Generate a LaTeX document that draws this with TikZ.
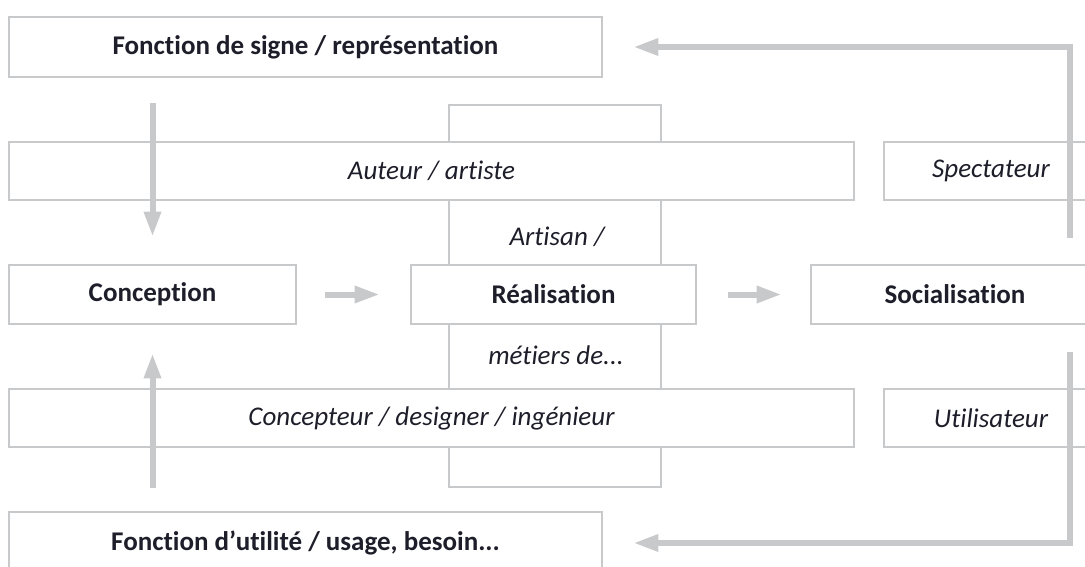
\documentclass[tikz,border=0pt]{standalone}
\usepackage{fontspec}
\setmainfont{Carlito}[Ligatures={NoCommon}]
\usetikzlibrary{arrows.meta,positioning}
\definecolor{trait}{HTML}{C8C9CB}
\definecolor{encre}{HTML}{1E1E2A}

\begin{document}
\begin{tikzpicture}[
    x=1pt, y=-1pt,
    box/.style={draw=trait, line width=2.6pt, fill=white, inner sep=0pt,
        text=encre, font=\fontsize{27}{31}\selectfont},
    bbox/.style={box, font=\fontsize{27}{31}\selectfont\bfseries},
    ibox/.style={box, font=\fontsize{27}{31}\selectfont\itshape},
    itxt/.style={text=encre, font=\fontsize{27}{31}\selectfont\itshape},
    flow/.style={draw=trait, line width=6pt,
        -{Triangle[length=25pt,width=16pt]}},
    ]
    \path[use as bounding box, clip] (0,0) rectangle (1085,567);

    %workshop column
    \node[box, minimum width=212pt, minimum height=382pt] (atelier) at (555,296) {};
    \node[itxt] (artisan) at (557,237) {Artisan /};
    \node[itxt] (metiers) at (556,355) {métiers de...};

    %functions
    \node[bbox, minimum width=593pt, minimum height=60pt] (signe) at (305.5,47) {Fonction de signe / représentation};
    \node[bbox, minimum width=593pt, minimum height=62pt] (utilite) at (305.5,543) {Fonction d’utilité / usage, besoin...};

    %actors
    \node[ibox, minimum width=845pt, minimum height=58pt] (auteur) at (431.5,171) {Auteur / artiste};
    \node[ibox, minimum width=214pt, minimum height=58pt] (spectateur) at (991,171) {Spectateur};
    \node[ibox, minimum width=845pt, minimum height=58pt] (concepteur) at (431.5,418) {Concepteur / designer / ingénieur};
    \node[ibox, minimum width=214pt, minimum height=58pt] (utilisateur) at (991,418) {Utilisateur};

    %stages
    \node[bbox, minimum width=287pt, minimum height=59pt] (conception) at (152.5,294.5) {Conception};
    \node[bbox, minimum width=285pt, minimum height=59pt] (realisation) at (553.5,294.5) {Réalisation};
    \node[bbox, minimum width=288pt, minimum height=59pt] (socialisation) at (955,294.5) {Socialisation};

    %arrows
    \coordinate (haut) at (1070,238);
    \coordinate (bas) at (1070,352);
    \draw[flow] ([yshift=-25pt]signe.south -| conception.north) -- ([yshift=27pt]conception.north);
    \draw[flow] ([yshift=-40pt]concepteur.south -| conception.south) -- ([yshift=-28pt]conception.south);
    \draw[flow] ([xshift=28pt]conception.east) -- ([xshift=-30pt]realisation.west);
    \draw[flow] ([xshift=31pt]realisation.east) -- ([xshift=-28pt]socialisation.west);
    \draw[flow] (haut) |- ([xshift=30pt]signe.east);
    \draw[flow] (bas) |- ([xshift=30pt]utilite.east);

\end{tikzpicture}
\end{document}
